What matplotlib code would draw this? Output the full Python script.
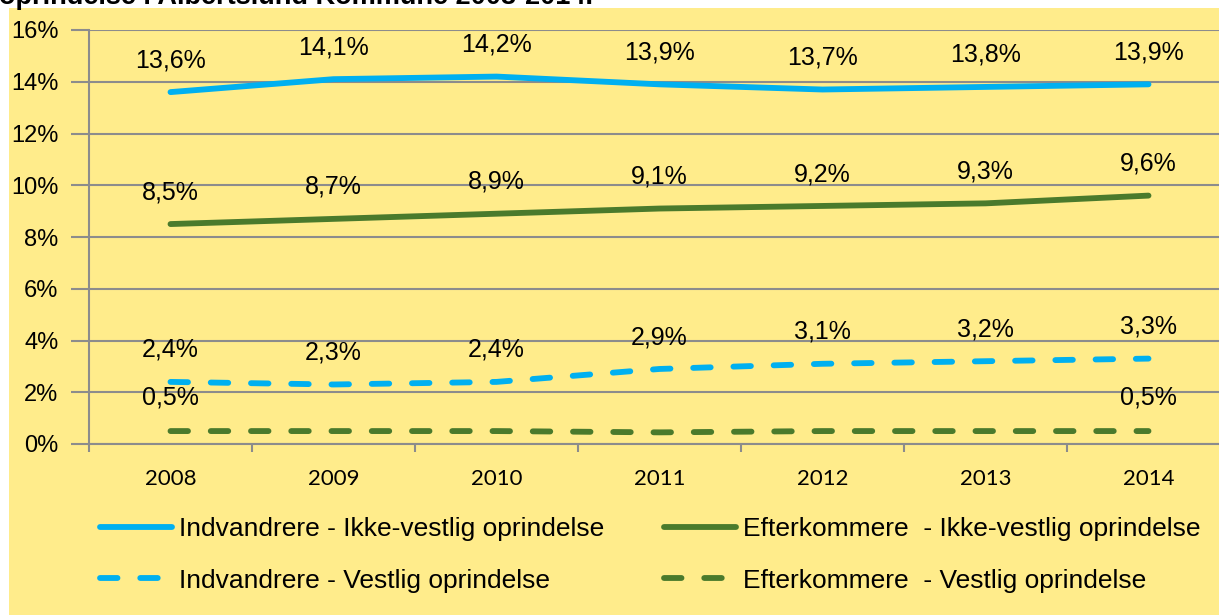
import matplotlib
matplotlib.use("Agg")
import matplotlib.pyplot as plt
from matplotlib.patches import Rectangle

years = ["2008", "2009", "2010", "2011", "2012", "2013", "2014"]
indv_ikke_vestlig = [13.6, 14.1, 14.2, 13.9, 13.7, 13.8, 13.9]
efter_ikke_vestlig = [8.5, 8.7, 8.9, 9.1, 9.2, 9.3, 9.6]
indv_vestlig = [2.4, 2.3, 2.4, 2.9, 3.1, 3.2, 3.3]
efter_vestlig = [0.5, 0.5, 0.5, 0.45, 0.5, 0.5, 0.5]
efter_vestlig_labeled = [0, 6]

series_names = [
    "Indvandrere - Ikke-vestlig oprindelse",
    "Efterkommere  - Ikke-vestlig oprindelse",
    "Indvandrere - Vestlig oprindelse",
    "Efterkommere  - Vestlig oprindelse",
]
yticks = [0, 2, 4, 6, 8, 10, 12, 14, 16]
title_text = "oprindelse i Albertslund Kommune 2008-2014."

W, H = 1219, 615
DPI = 100
CYAN = "#00B0F0"
GREEN = "#4A7A2C"
YELLOW = "#FFEC8B"
GRID = "#8C8C8C"

fig = plt.figure(figsize=(W / DPI, H / DPI), dpi=DPI, facecolor="white")
fig.patches.append(Rectangle((9 / W, 0), 1 - 9 / W, (H - 8) / H,
                             transform=fig.transFigure, facecolor=YELLOW,
                             edgecolor="none", zorder=-10))

fig.text(-1 / W, 1 - 4 / H, title_text, fontsize=19.5, fontweight="bold",
         family="Liberation Sans", ha="left", va="baseline", color="black")

left_px, spacing = 89, 163
ax_left = left_px / W
ax_width = 7 * spacing / W
ax_bottom = (H - 444) / H
ax_top = (H - 30) / H
ax = fig.add_axes([ax_left, ax_bottom, ax_width, ax_top - ax_bottom])
ax.set_facecolor("none")
ax.set_zorder(1)

x = list(range(len(years)))
lw = 4.2
dash = (3.0, 3.9)
l1, = ax.plot(x, indv_ikke_vestlig, color=CYAN, lw=lw, solid_capstyle="round",
              label=series_names[0], zorder=3)
l2, = ax.plot(x, efter_ikke_vestlig, color=GREEN, lw=lw, solid_capstyle="round",
              label=series_names[1], zorder=3)
l3, = ax.plot(x, indv_vestlig, color=CYAN, lw=lw, dashes=dash,
              dash_capstyle="round", label=series_names[2], zorder=3)
l4, = ax.plot(x, efter_vestlig, color=GREEN, lw=lw, dashes=dash,
              dash_capstyle="round", label=series_names[3], zorder=3)

def fmt(v):
    return f"{v:.1f}".replace(".", ",") + "%"

lab_kw = dict(textcoords="offset points", ha="center", va="center",
              fontsize=18, family="Liberation Sans", color="black", zorder=4)
for series in (indv_ikke_vestlig, efter_ikke_vestlig, indv_vestlig):
    for xi, v in zip(x, series):
        ax.annotate(fmt(v), (xi, v), xytext=(0, 23), **lab_kw)
for xi in efter_vestlig_labeled:
    ax.annotate(fmt(efter_vestlig[xi]), (xi, efter_vestlig[xi]), xytext=(0, 24),
                **lab_kw)

ax.set_xlim(-0.5, len(years) - 0.5)
ax.set_ylim(0, 16)
ax.set_yticks(yticks)
ax.set_yticklabels([f"{t}%" for t in yticks], fontsize=17,
                   family="Liberation Sans")
ax.set_xticks(x)
ax.set_xticklabels(years, fontsize=16, family="Lato")
ax.set_xticks([i - 0.5 for i in range(len(years) + 1)], minor=True)
ax.tick_params(axis="x", which="major", length=0, pad=18)
ax.tick_params(axis="x", which="minor", length=6, width=1.5, color=GRID)
ax.tick_params(axis="y", which="major", length=13, width=1.5, color=GRID, pad=9)

ax.grid(axis="y", color=GRID, lw=1.5, zorder=1)
for s in ("top", "right"):
    ax.spines[s].set_visible(False)
for s in ("left", "bottom"):
    ax.spines[s].set_color(GRID)
    ax.spines[s].set_linewidth(1.5)
ax.set_axisbelow(True)

fs_leg = 19
fig.legend(handles=[l1, l3, l2, l4], labels=[series_names[0], series_names[2],
                                             series_names[1], series_names[3]],
           ncol=2, loc="upper left", bbox_to_anchor=(100 / W, 1 - 517 / H),
           bbox_transform=fig.transFigure, frameon=False, borderpad=0,
           borderaxespad=0, handlelength=2.73, handletextpad=0.27,
           columnspacing=2.27, labelspacing=1.05,
           prop={"family": "Liberation Sans", "size": fs_leg})

fig.savefig("out.png", dpi=DPI, facecolor="white")
